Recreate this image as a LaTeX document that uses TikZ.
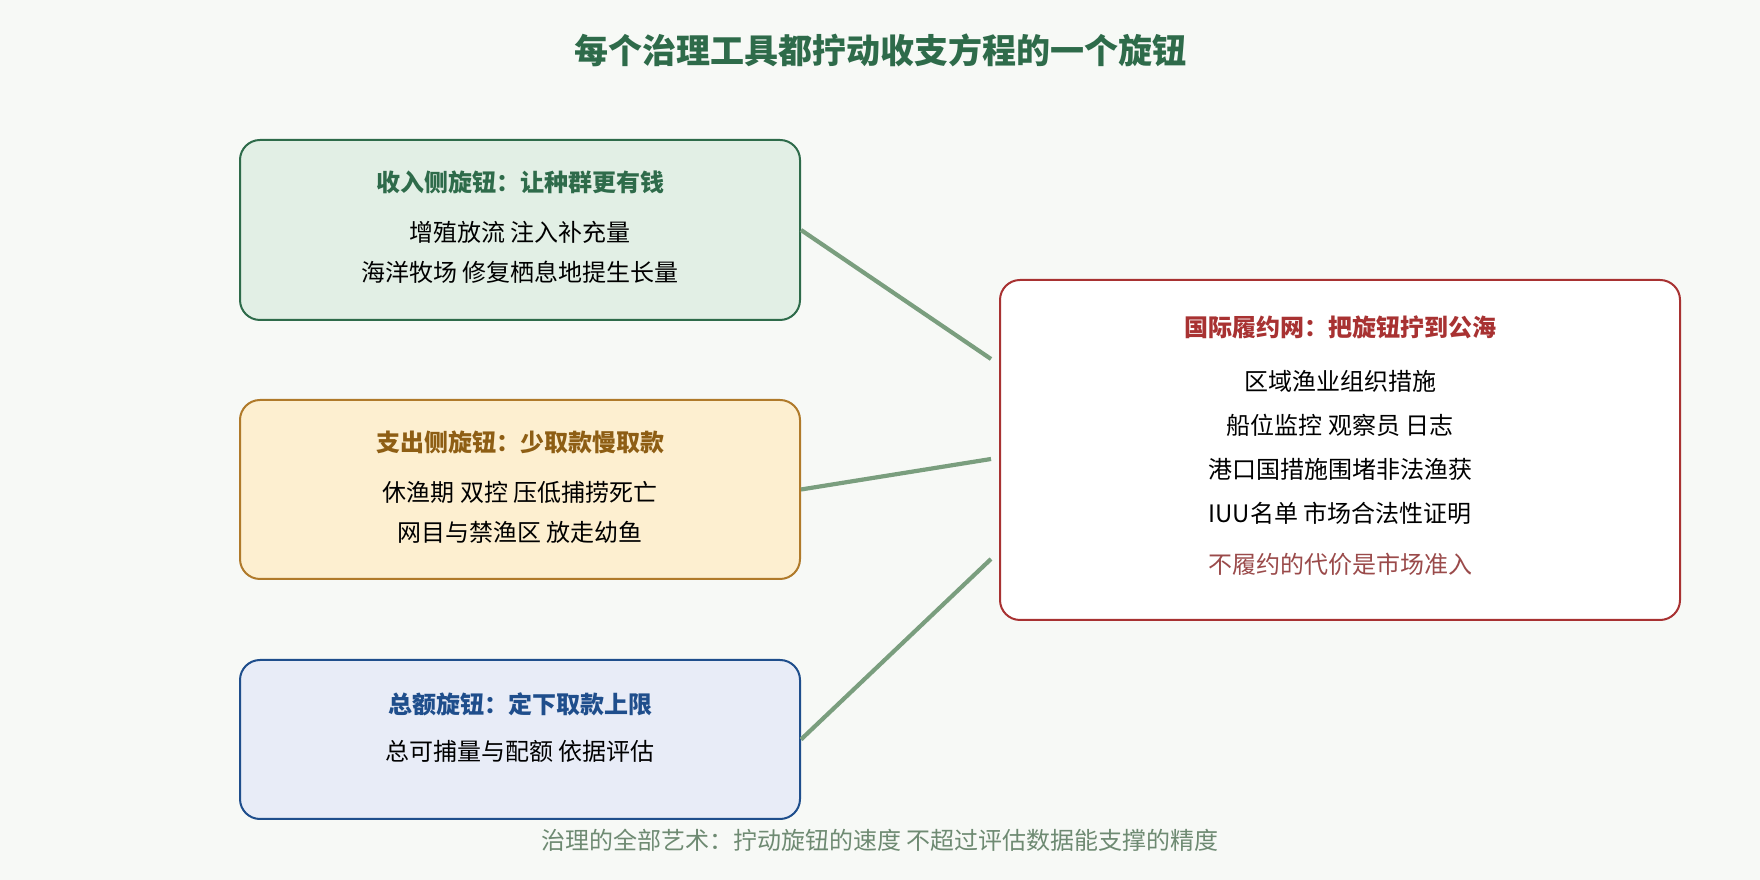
\documentclass[tikz,border=0pt]{standalone}
\usepackage{fontspec}
\newfontfamily\cjk{Noto Sans CJK SC}
\usepackage{tikz}
\usetikzlibrary{positioning,calc}

\definecolor{bgpaper}{HTML}{F7F9F6}
\definecolor{titlegreen}{HTML}{2E6B4A}
\definecolor{revfill}{HTML}{E2EFE5}
\definecolor{costfill}{HTML}{FDEFD0}
\definecolor{costline}{HTML}{B07A2A}
\definecolor{costtext}{HTML}{8E5E14}
\definecolor{capfill}{HTML}{E8ECF7}
\definecolor{capline}{HTML}{1F4E8C}
\definecolor{intlline}{HTML}{A83232}
\definecolor{intlnote}{HTML}{9A4A4A}
\definecolor{linkgreen}{HTML}{7A9E7E}
\definecolor{notegray}{HTML}{6E8A72}

\begin{document}
\begin{tikzpicture}[x=1pt,y=1pt,
    knob/.style={rectangle,draw,rounded corners=20pt,line width=2pt,minimum width=560pt,inner sep=0pt},
    head/.style={inner sep=0pt,font=\cjk\bfseries\fontsize{24pt}{28pt}\selectfont},
    body/.style={inner sep=0pt,align=center,font=\cjk\fontsize{24pt}{40pt}\selectfont},
    link/.style={draw=linkgreen,line width=4.2pt}]
    \fill[bgpaper] (0,0) rectangle (1760,880);
    \node[inner sep=0pt,text=titlegreen,font=\cjk\bfseries\fontsize{34pt}{40pt}\selectfont] (title) at (880,830) {每个治理工具都拧动收支方程的一个旋钮};
    % three knobs on the left
    \node[knob,fill=revfill,draw=titlegreen,minimum height=180pt] (rev) at (520,650) {};
    \node[knob,fill=costfill,draw=costline,minimum height=179pt] (cost) at (520,390.5) {};
    \node[knob,fill=capfill,draw=capline,minimum height=159pt] (cap) at (520,140.5) {};
    \node[head,text=titlegreen] (rev_t) at ([yshift=-43pt]rev.north) {收入侧旋钮：让种群更有钱};
    \node[body] (rev_b) at ([yshift=-70pt]rev_t.center) {增殖放流 注入补充量\\海洋牧场 修复栖息地提生长量};
    \node[head,text=costtext] (cost_t) at ([yshift=-43pt]cost.north) {支出侧旋钮：少取款慢取款};
    \node[body] (cost_b) at ([yshift=-70pt]cost_t.center) {休渔期 双控 压低捕捞死亡\\网目与禁渔区 放走幼鱼};
    \node[head,text=capline] (cap_t) at ([yshift=-45pt]cap.north) {总额旋钮：定下取款上限};
    \node[body] (cap_b) at ([yshift=-47pt]cap_t.center) {总可捕量与配额 依据评估};
    % the network on the right
    \node[knob,fill=white,draw=intlline,minimum width=680pt,minimum height=340pt] (intl) at (1340,430) {};
    \node[head,text=intlline] (intl_t) at ([yshift=-48pt]intl.north) {国际履约网：把旋钮拧到公海};
    \node[body,font=\cjk\fontsize{24pt}{44.3pt}\selectfont] (intl_b) at ([yshift=-120.5pt]intl_t.center) {区域渔业组织措施\\船位监控 观察员 日志\\港口国措施围堵非法渔获\\IUU名单 市场合法性证明};
    \node[body,text=intlnote] (intl_n) at ([yshift=-237pt]intl_t.center) {不履约的代价是市场准入};
    \coordinate (k1) at ([xshift=-8pt,yshift=91pt]intl.west);
    \coordinate (k2) at ([xshift=-8pt,yshift=-9pt]intl.west);
    \coordinate (k3) at ([xshift=-8pt,yshift=-109pt]intl.west);
    \draw[link] (rev.east) -- (k1);
    \draw[link] (cost.east) -- (k2);
    \draw[link] (cap.east) -- (k3);
    \node[body,text=notegray] (moral) at (880,40) {治理的全部艺术：拧动旋钮的速度 不超过评估数据能支撑的精度};
\end{tikzpicture}
\end{document}
